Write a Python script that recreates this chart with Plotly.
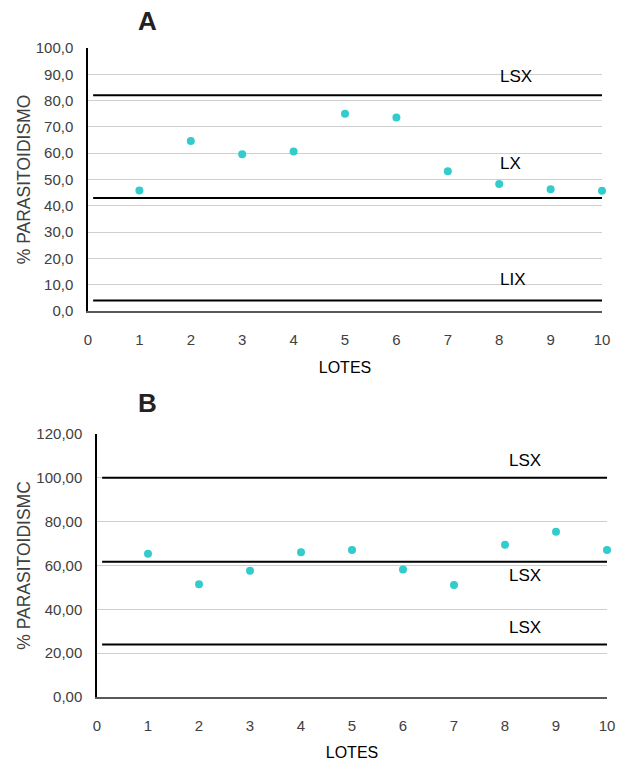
import plotly.graph_objects as go

W, H = 623, 761

lotes = [1, 2, 3, 4, 5, 6, 7, 8, 9, 10]
parasit_a = [45.8, 64.6, 59.6, 60.6, 75.0, 73.6, 53.1, 48.3, 46.3, 45.7]
parasit_b = [65.4, 51.5, 57.6, 66.0, 67.1, 58.2, 51.1, 69.5, 75.4, 67.1]

limits_a = [82.0, 43.0, 4.0]
limit_labels_a = ["LSX", "LX", "LIX"]
label_y_a = [89.0, 56.0, 12.0]

limits_b = [100.0, 61.7, 24.0]
limit_labels_b = ["LSX", "LSX", "LSX"]
label_y_b = [108.0, 55.5, 31.5]

x_ticks = [0, 1, 2, 3, 4, 5, 6, 7, 8, 9, 10]
y_ticks_a = [0, 10, 20, 30, 40, 50, 60, 70, 80, 90, 100]
y_ticks_b = [0, 20, 40, 60, 80, 100, 120]
y_text_a = [f"{v:.1f}".replace(".", ",") for v in y_ticks_a]
y_text_b = [f"{v:.2f}".replace(".", ",") for v in y_ticks_b]

MARK = "#33CCCC"
FONT = "Liberation Sans, Arial, sans-serif"
TICKC = "#404040"

fig = go.Figure()

line_x = [0.1, 10.05]

for val in limits_a:
    fig.add_trace(go.Scatter(x=line_x, y=[val, val], mode="lines",
                             line=dict(color="black", width=2),
                             xaxis="x", yaxis="y", showlegend=False, hoverinfo="skip"))
for val in limits_b:
    fig.add_trace(go.Scatter(x=line_x, y=[val, val], mode="lines",
                             line=dict(color="black", width=2),
                             xaxis="x2", yaxis="y2", showlegend=False, hoverinfo="skip"))

fig.add_trace(go.Scatter(x=lotes, y=parasit_a, mode="markers",
                         marker=dict(color=MARK, size=8), cliponaxis=False,
                         xaxis="x", yaxis="y", showlegend=False))
fig.add_trace(go.Scatter(x=lotes, y=parasit_b, mode="markers",
                         marker=dict(color=MARK, size=8), cliponaxis=False,
                         xaxis="x2", yaxis="y2", showlegend=False))

annotations = []
for lab, yv in zip(limit_labels_a, label_y_a):
    annotations.append(dict(x=7.97, y=yv, xref="x", yref="y", text=lab, showarrow=False,
                            xanchor="left", yanchor="middle",
                            font=dict(family=FONT, size=17, color="black")))
for lab, yv in zip(limit_labels_b, label_y_b):
    annotations.append(dict(x=8.03, y=yv, xref="x2", yref="y2", text=lab, showarrow=False,
                            xanchor="left", yanchor="middle",
                            font=dict(family=FONT, size=17, color="black")))

annotations.append(dict(x=147 / W, y=1 - 21 / H, xref="paper", yref="paper", text="<b>A</b>",
                        showarrow=False, xanchor="center", yanchor="middle",
                        font=dict(family=FONT, size=26, color="#222222")))
annotations.append(dict(x=147 / W, y=1 - 403 / H, xref="paper", yref="paper", text="<b>B</b>",
                        showarrow=False, xanchor="center", yanchor="middle",
                        font=dict(family=FONT, size=26, color="#222222")))

def xaxis(domain, anchor):
    return dict(domain=domain, anchor=anchor, range=[0, 10], tickvals=x_ticks,
                ticktext=[str(t) for t in x_ticks], showgrid=False, zeroline=False,
                showline=True, linecolor="#595959", linewidth=2, ticks="",
                ticklabelstandoff=14, tickfont=dict(family=FONT, size=15, color=TICKC),
                title=dict(text="LOTES", standoff=15, font=dict(family=FONT, size=16, color="black")),
                automargin=False, fixedrange=True)

def yaxis(domain, anchor, rng, tv, tt, title):
    return dict(domain=domain, anchor=anchor, range=rng, tickvals=tv, ticktext=tt,
                showgrid=True, gridcolor="#d0d0d0", gridwidth=1, zeroline=False,
                showline=True, linecolor="black", linewidth=1.5, ticks="",
                ticklabelstandoff=10, tickfont=dict(family=FONT, size=15, color=TICKC),
                title=dict(text=title, standoff=1, font=dict(family=FONT, size=17.5, color=TICKC)),
                automargin=False, fixedrange=True)

fig.update_layout(
    width=W, height=H,
    margin=dict(l=0, r=0, t=0, b=0),
    paper_bgcolor="white", plot_bgcolor="white",
    xaxis=xaxis([88 / W, 602 / W], "y"),
    yaxis=yaxis([1 - 311 / H, 1 - 48 / H], "x", [0, 100], y_ticks_a, y_text_a, "% PARASITOIDISMO"),
    xaxis2=xaxis([97 / W, 607 / W], "y2"),
    yaxis2=yaxis([1 - 697 / H, 1 - 434 / H], "x2", [0, 120], y_ticks_b, y_text_b, "% PARASITOIDISMC"),
    annotations=annotations,
    showlegend=False,
)

fig.write_html("out.html", config={"displayModeBar": False},
               post_script="document.body.style.margin='0';document.body.style.overflow='hidden';")
